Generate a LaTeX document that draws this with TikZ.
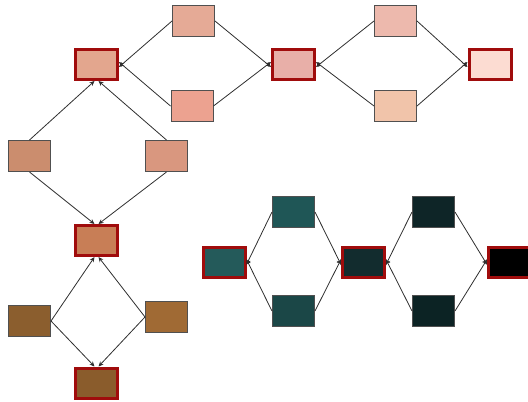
\documentclass[tikz,border=0pt]{standalone}
\usetikzlibrary{arrows.meta}
\begin{document}
\begin{tikzpicture}[x=1pt,y=-1pt,
  redbox/.style={draw=hotred,line width=3pt,minimum width=42pt,minimum height=30pt,inner sep=0pt},
  smallbox/.style={draw=boxgray,line width=1pt,minimum width=42pt,minimum height=31pt,inner sep=0pt},
  link/.style={draw=linegray,line width=0.8pt,-{Stealth[length=5pt,width=4.5pt]}}]
\definecolor{hotred}{HTML}{A00C0C}
\definecolor{boxgray}{HTML}{505050}
\definecolor{linegray}{HTML}{2E2E2E}
\useasboundingbox (0,0) rectangle (528,402);
\clip (0,0) rectangle (528,402);
% red-bordered nodes
\node[redbox,fill={rgb,255:red,227;green,166;blue,142}] (R1) at (96.5,64.5) {};
\node[redbox,fill={rgb,255:red,232;green,175;blue,168}] (R2) at (293.5,64.5) {};
\node[redbox,fill={rgb,255:red,252;green,220;blue,210}] (R3) at (490,64.5) {};
\node[redbox,fill={rgb,255:red,200;green,126;blue,86}] (R4) at (96.5,240.5) {};
\node[redbox,fill={rgb,255:red,138;green,92;blue,44}] (R5) at (96.5,383) {};
\node[redbox,fill={rgb,255:red,36;green,90;blue,90}] (T1) at (224,262) {};
\node[redbox,fill={rgb,255:red,18;green,44;blue,46}] (T2) at (363.5,262) {};
\node[redbox,fill=black] (T3) at (509.5,262) {};
% small nodes
\node[smallbox,fill={rgb,255:red,229;green,170;blue,150}] (a1) at (193.5,21) {};
\node[smallbox,fill={rgb,255:red,236;green,162;blue,144}] (a2) at (192,106) {};
\node[smallbox,fill={rgb,255:red,237;green,185;blue,173}] (b1) at (395.5,21) {};
\node[smallbox,fill={rgb,255:red,241;green,196;blue,170}] (b2) at (395.5,106) {};
\node[smallbox,fill={rgb,255:red,203;green,141;blue,110}] (c1) at (29.5,156) {};
\node[smallbox,fill={rgb,255:red,217;green,151;blue,127}] (c2) at (166.5,156) {};
\node[smallbox,fill={rgb,255:red,139;green,94;blue,46}] (d1) at (29.5,321) {};
\node[smallbox,fill={rgb,255:red,160;green,106;blue,52}] (d2) at (166.5,317) {};
\node[smallbox,fill={rgb,255:red,31;green,86;blue,86}] (e1) at (293.5,212) {};
\node[smallbox,fill={rgb,255:red,27;green,71;blue,71}] (e2) at (293.5,311) {};
\node[smallbox,fill={rgb,255:red,14;green,37;blue,39}] (f1) at (433.5,212) {};
\node[smallbox,fill={rgb,255:red,12;green,35;blue,36}] (f2) at (433.5,311) {};
% connectors
\draw[link] (a1.west) -- ([yshift=-2.5pt]R1.east);
\draw[link] (a2.west) -- ([yshift=2.5pt]R1.east);
\draw[link] (a1.east) -- ([yshift=-2.5pt]R2.west);
\draw[link] (a2.east) -- ([yshift=2.5pt]R2.west);
\draw[link] (b1.west) -- ([yshift=-2.5pt]R2.east);
\draw[link] (b2.west) -- ([yshift=2.5pt]R2.east);
\draw[link] (b1.east) -- ([yshift=-2.5pt]R3.west);
\draw[link] (b2.east) -- ([yshift=2.5pt]R3.west);
\draw[link] (c1.north) -- ([xshift=-2pt]R1.south);
\draw[link] (c2.north) -- ([xshift=2pt]R1.south);
\draw[link] (c1.south) -- ([xshift=-2pt]R4.north);
\draw[link] (c2.south) -- ([xshift=2pt]R4.north);
\draw[link] (d1.east) -- ([xshift=-2pt]R4.south);
\draw[link] (d2.west) -- ([xshift=2pt]R4.south);
\draw[link] (d1.east) -- ([xshift=-2pt]R5.north);
\draw[link] (d2.west) -- ([xshift=2pt]R5.north);
\draw[link] (e1.west) -- ([yshift=-2.5pt]T1.east);
\draw[link] (e2.west) -- ([yshift=2.5pt]T1.east);
\draw[link] (e1.east) -- ([yshift=-2.5pt]T2.west);
\draw[link] (e2.east) -- ([yshift=2.5pt]T2.west);
\draw[link] (f1.west) -- ([yshift=-2.5pt]T2.east);
\draw[link] (f2.west) -- ([yshift=2.5pt]T2.east);
\draw[link] (f1.east) -- ([yshift=-2.5pt]T3.west);
\draw[link] (f2.east) -- ([yshift=2.5pt]T3.west);
\end{tikzpicture}
\end{document}
